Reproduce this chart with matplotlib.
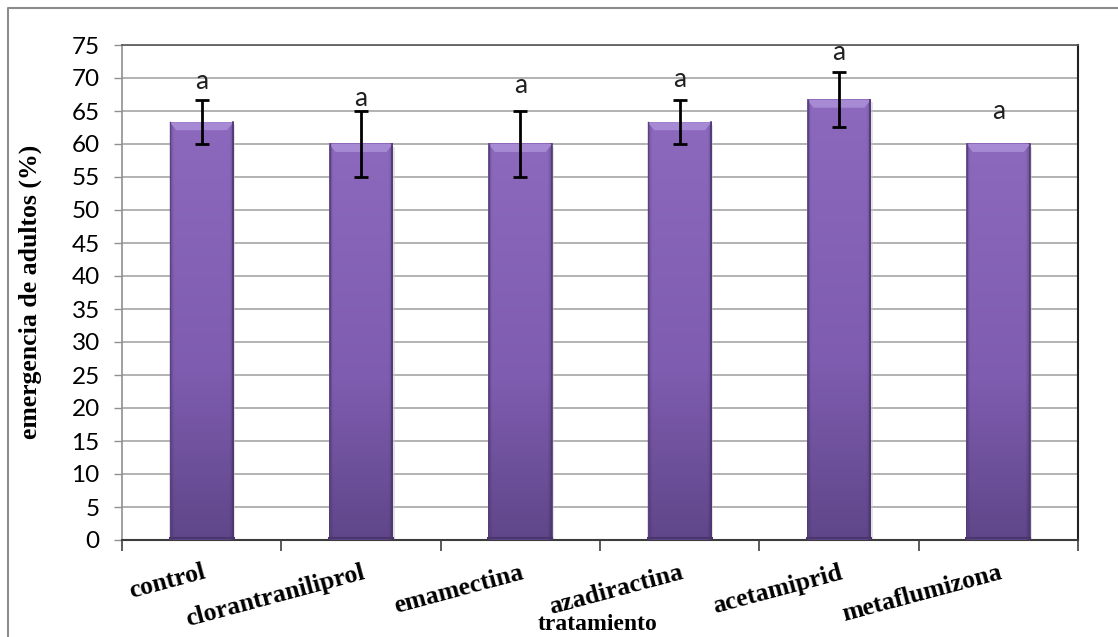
import numpy as np
import matplotlib
matplotlib.use("Agg")
import matplotlib.pyplot as plt
from matplotlib.patches import Polygon
from matplotlib.lines import Line2D
from matplotlib.colors import to_rgb

# ---------------- data ----------------
categories = ["control", "clorantraniliprol", "emamectina", "azadiractina",
              "acetamiprid", "metaflumizona"]
emergence = [63.3, 60.0, 60.0, 63.3, 66.7, 60.0]
errors = [3.3, 5.0, 5.0, 3.3, 4.2, 0.0]
letters = ["a", "a", "a", "a", "a", "a"]
letter_y = [69.4, 66.9, 68.8, 69.7, 73.8, 64.9]
yticks = list(range(0, 80, 5))
ylabel = "emergencia de adultos (%)"
xlabel = "tratamiento"

W, H = 1118, 637
fig = plt.figure(figsize=(W / 100, H / 100), dpi=100)
fig.patch.set_facecolor("white")
ax = fig.add_axes([122 / W, 1 - 540 / H, (1078 - 122) / W, (540 - 45) / H])

x = np.arange(len(categories))
bars = ax.bar(x, emergence, width=0.4, color="none", edgecolor="none", zorder=3)

# gradient fill for each bar
c_top = np.array(to_rgb("#8C69BD"))
c_mid = np.array(to_rgb("#7E5CAF"))
c_bot = np.array(to_rgb("#5F4689"))
ny, nx = 200, 60
col = np.zeros((ny, 3))
for i, tv in enumerate(np.linspace(0, 1, ny)):
    if tv < 0.6:
        col[i] = c_top + (c_mid - c_top) * (tv / 0.6)
    else:
        col[i] = c_mid + (c_bot - c_mid) * ((tv - 0.6) / 0.4)
u = np.linspace(0, 1, nx)
hfac = np.ones(nx)
hfac = np.where(u < 0.06, 0.82 + 0.18 * (u / 0.06), hfac)
hfac = np.where(u > 0.94, 0.80 + 0.20 * ((1 - u) / 0.06), hfac)
img = np.clip(col[:, None, :] * hfac[None, :, None], 0, 1)

for b in bars:
    x0, w, h = b.get_x(), b.get_width(), b.get_height()
    # soft shadow
    ax.add_patch(plt.Rectangle((x0 + 0.012, -0.4), w, h, color="#c8c8c8", alpha=0.5,
                               zorder=2.5, lw=0))
    ax.imshow(img, extent=[x0, x0 + w, 0, h], aspect="auto", zorder=3,
              interpolation="bilinear")
    dx, dy = 0.04, 1.2
    bevel = Polygon([(x0, h), (x0 + w, h), (x0 + w - dx, h - dy), (x0 + dx, h - dy)],
                    closed=True, facecolor="#A68BD4", edgecolor="none", zorder=3.2)
    ax.add_patch(bevel)
    ax.plot([x0 + 0.004, x0 + 0.004], [0, h], color="#5a4282", lw=1, zorder=3.3)
    ax.plot([x0 + w - 0.004, x0 + w - 0.004], [0, h], color="#4e3873", lw=1.2, zorder=3.3)
    ax.plot([x0, x0 + w], [0.3, 0.3], color="#4a356c", lw=1.5, zorder=3.3)

# error bars
for xi, v, e in zip(x, emergence, errors):
    if e > 0:
        ax.errorbar(xi, v, yerr=e, fmt="none", ecolor="black", elinewidth=2,
                    capsize=5, capthick=2, zorder=4)

# significance letters
for xi, lt, ly in zip(x, letters, letter_y):
    ax.text(xi, ly, lt, ha="center", va="center", fontsize=19,
            family="Lato", color="#202020", zorder=5)

ax.set_xlim(-0.5, len(categories) - 0.5)
ax.set_ylim(0, 75)
ax.set_yticks(yticks)
ax.set_yticklabels([str(v) for v in yticks], family="Lato", fontsize=17.5)
ax.yaxis.grid(True, color="#a6a6a6", lw=1.2, zorder=1)
ax.set_axisbelow(True)

ax.set_xticks(x)
ax.set_xticklabels(categories, rotation=15, ha="right", va="top",
                   rotation_mode="anchor", family="Liberation Serif",
                   fontweight="bold", fontsize=18.5)
ax.tick_params(axis="x", which="major", length=0, pad=15)
ax.set_xticks(np.arange(-0.5, len(categories), 1.0), minor=True)
ax.tick_params(axis="x", which="minor", length=8, width=1.2, color="#404040",
               direction="out")
ax.tick_params(axis="y", length=6, width=1, color="#909090", direction="out", pad=10)

ax.spines["left"].set_color("#909090")
ax.spines["left"].set_linewidth(1.2)
ax.spines["bottom"].set_color("#3c3c3c")
ax.spines["bottom"].set_linewidth(1.5)
ax.spines["top"].set_color("#555555")
ax.spines["top"].set_linewidth(1.2)
ax.spines["right"].set_color("#222222")
ax.spines["right"].set_linewidth(1.5)

fig.text(30 / W, 1 - 292 / H, ylabel, rotation=90, ha="center", va="center",
         family="Liberation Serif", fontweight="bold", fontsize=18.5)
fig.text(598 / W, 1 - 624 / H, xlabel, ha="center", va="center",
         family="Liberation Serif", fontweight="bold", fontsize=17)

# outer chart border
fig.add_artist(Line2D([8 / W, 8 / W, 1.0], [0.0, 1 - 8 / H, 1 - 8 / H],
                      transform=fig.transFigure, color="#8c8c8c", lw=1.5))

fig.savefig("out.png", dpi=100)
